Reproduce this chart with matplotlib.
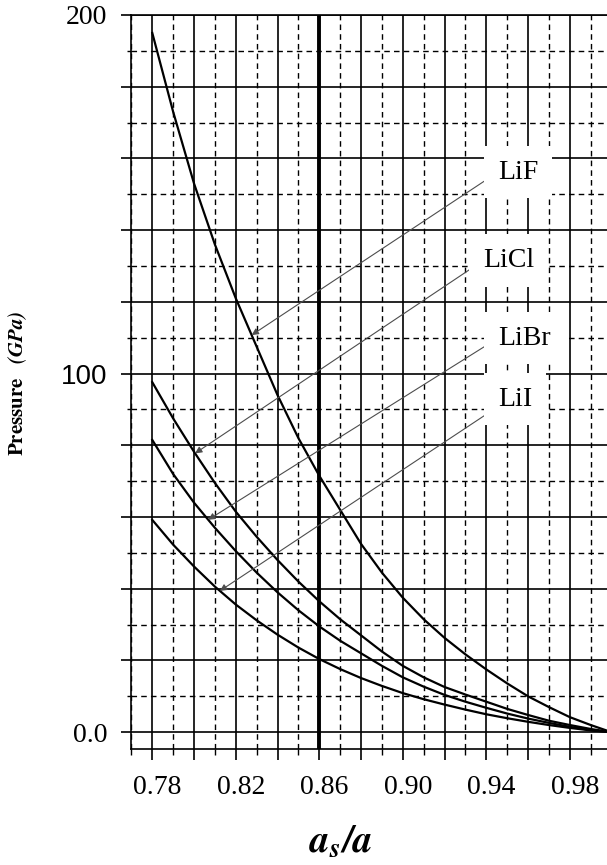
import matplotlib
matplotlib.use("Agg")
import matplotlib.pyplot as plt
import numpy as np
from matplotlib.transforms import ScaledTranslation

# lattice ratio a_s/a and pressure (GPa)
ratio = [0.78, 0.79, 0.80, 0.81, 0.82, 0.83, 0.84, 0.85, 0.86, 0.87, 0.88, 0.89,
         0.90, 0.91, 0.92, 0.93, 0.94, 0.95, 0.96, 0.97, 0.98, 0.99, 1.00]
lif = [195, 173, 153, 136, 121, 107.5, 94, 82, 71.5, 62, 52.5, 44.5,
       37.5, 31.5, 26.3, 21.7, 17.5, 13.6, 10, 7, 4.2, 2.0, 0]
licl = [97.6, 87.5, 78.2, 69.5, 61.5, 54.5, 48, 42, 36.5, 31.5, 27, 22.5,
        18.5, 15.3, 12.6, 10.5, 8.5, 6.5, 4.8, 3.2, 2.0, 0.9, 0]
libr = [81.5, 72, 64, 57, 50.5, 44.5, 39, 34, 29.5, 25.5, 22, 18.5,
        15.3, 12.7, 10.4, 8.5, 6.8, 5.2, 3.8, 2.6, 1.5, 0.6, 0]
lii = [59.2, 52.3, 46.2, 40.6, 35.6, 31.2, 27.2, 23.6, 20.4, 17.6, 15.1, 12.9,
       10.9, 9.2, 7.7, 6.3, 5.0, 3.9, 2.9, 2.0, 1.2, 0.5, 0]

x_major = [0.78, 0.80, 0.82, 0.84, 0.86, 0.88, 0.90, 0.92, 0.94, 0.96, 0.98]
x_minor = [0.77, 0.79, 0.81, 0.83, 0.85, 0.87, 0.89, 0.91, 0.93, 0.95, 0.97, 0.99]
x_labels = ["0.78", "", "0.82", "", "0.86", "", "0.90", "", "0.94", "", "0.98"]
y_major = [0, 20, 40, 60, 80, 100, 120, 140, 160, 180, 200]
y_minor = [10, 30, 50, 70, 90, 110, 130, 150, 170, 190]
y_labels = ["0.0", "", "", "", "", "100", "", "", "", "", "200"]

plt.rcParams["mathtext.fontset"] = "stix"
serif = "Liberation Serif"

fig = plt.figure(figsize=(6.07, 8.65), dpi=100)
ax = fig.add_axes([131.4 / 607, 1 - 748.7 / 865, 1 - 131.4 / 607, (748.7 - 15) / 865])

ax.plot(ratio, lif, color="black", lw=1.6)
ax.plot(ratio, licl, color="black", lw=1.6)
ax.plot(ratio, libr, color="black", lw=1.6)
ax.plot(ratio, lii, color="black", lw=1.6)

ax.axvline(0.86, color="black", lw=2.8, zorder=1)

ax.set_xlim(0.77, 0.9978)
ax.set_ylim(-4.6, 200)

ax.set_xticks(x_major)
ax.set_xticks(x_minor, minor=True)
ax.set_xticklabels(x_labels, fontfamily=serif, fontsize=20)
ax.set_yticks(y_major)
ax.set_yticks(y_minor, minor=True)
ax.set_yticklabels(y_labels, fontfamily=serif, fontsize=20)
# the 100 label is set in a sans face in the original
ax.get_yticklabels()[5].set_fontfamily("Liberation Sans")

ax.tick_params(axis="x", which="major", direction="out", length=8, width=1.2, pad=11)
ax.tick_params(axis="x", which="minor", direction="out", length=4.3, width=1.0)
ax.tick_params(axis="y", which="major", direction="out", length=7.2, width=1.2, pad=10)
ax.tick_params(axis="y", which="minor", direction="out", length=3, width=1.0)

for lbl in ax.get_xticklabels():
    lbl.set_transform(lbl.get_transform() + ScaledTranslation(0.05, 0, fig.dpi_scale_trans))

ax.set_axisbelow(True)
ax.grid(which="major", color="black", lw=1.2, ls="-")
ax.grid(which="minor", color="black", lw=1.0, ls=(0, (4, 3)))

ax.spines["right"].set_visible(False)
for s in ["left", "bottom", "top"]:
    ax.spines[s].set_linewidth(1.2)


def label_curve(name, values, tip_x, text_xy, relpos=(0, 0.5)):
    tip_y = np.interp(tip_x, ratio, values)
    ax.annotate(name, xy=(tip_x, tip_y), xytext=text_xy, fontsize=20, fontfamily=serif,
                ha="left", va="center",
                bbox=dict(boxstyle="square,pad=0.5", fc="white", ec="none"),
                arrowprops=dict(arrowstyle="-|>", color="0.3", lw=0.8, mutation_scale=10,
                                shrinkA=0, shrinkB=0, relpos=relpos))


label_curve("LiF", lif, 0.8276, (0.9456, 156.2))
label_curve("LiCl", licl, 0.8005, (0.9384, 131.5))
label_curve("LiBr", libr, 0.8068, (0.9456, 109.9))
label_curve("LiI", lii, 0.8124, (0.9456, 92.9), relpos=(0, 0.2))

fig.text(18 / 607, 1 - 383.5 / 865, r"$\mathbf{Pressure}\ \ \ \mathbfit{(GPa)}$",
         rotation=90, fontsize=15, ha="center", va="center")
fig.text(341 / 607, 1 - 851.7 / 865, r"$\mathbfit{a}_{\mathbfit{s}}\mathbfit{/a}$",
         fontsize=28, ha="center", va="baseline")

fig.savefig("out.png", dpi=100)
